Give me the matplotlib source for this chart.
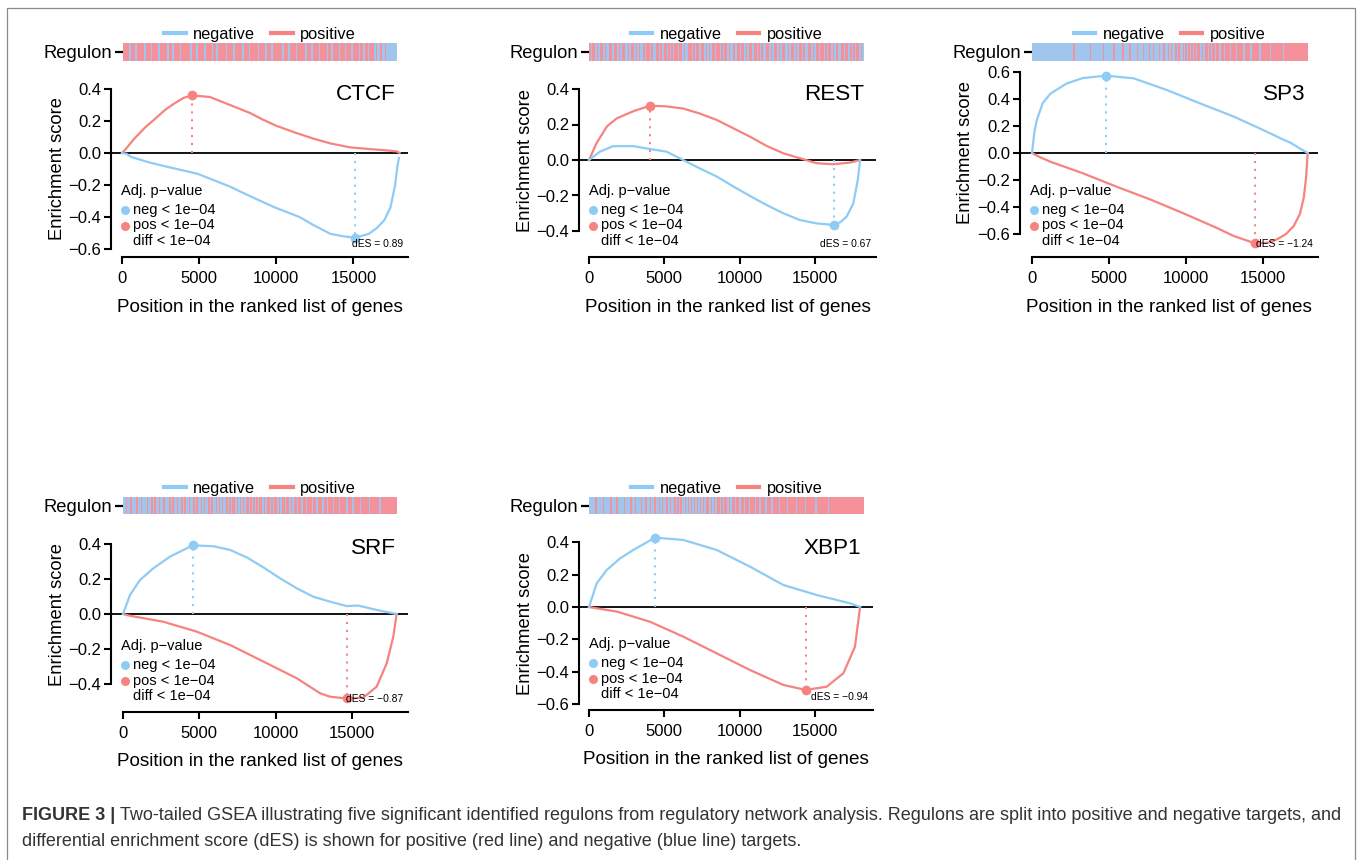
import numpy as np
import matplotlib
matplotlib.use("Agg")
import matplotlib.pyplot as plt
from matplotlib.lines import Line2D
from matplotlib.patches import Rectangle
from matplotlib.colors import ListedColormap

plt.rcParams['font.family'] = ['Liberation Sans', 'DejaVu Sans']

W, H = 1357, 860
BLUE = "#8ECBF5"
RED = "#F6837F"
BAR_BLUE = "#A0C6EE"
BAR_RED = "#F4919A"

regulons = ["CTCF", "REST", "SP3", "SRF", "XBP1"]
des_values = [0.89, 0.67, -1.24, -0.87, -0.94]
p_labels = ["neg < 1e\u221204", "pos < 1e\u221204", "diff < 1e\u221204"]
xtick_vals = [0, 5000, 10000, 15000]

# y ticks of each panel
ctcf_yticks = [-0.6, -0.4, -0.2, 0.0, 0.2, 0.4]
rest_yticks = [-0.4, -0.2, 0.0, 0.2, 0.4]
sp3_yticks = [-0.6, -0.4, -0.2, 0.0, 0.2, 0.4, 0.6]
srf_yticks = [-0.4, -0.2, 0.0, 0.2, 0.4]
xbp1_yticks = [-0.6, -0.4, -0.2, 0.0, 0.2, 0.4]

# running enrichment score, positive targets (red) and negative targets (blue)
ctcf_red_x = [0, 200, 800, 1500, 2100, 2800, 3400, 4000, 4540, 5700, 7000, 8300, 9100, 10000, 11300, 12400, 13500, 14800, 16000, 17300, 17800, 18000]
ctcf_red_y = [0, 0.02, 0.09, 0.16, 0.21, 0.27, 0.31, 0.345, 0.36, 0.35, 0.30, 0.25, 0.21, 0.17, 0.125, 0.09, 0.06, 0.035, 0.025, 0.015, 0.01, 0.0]
ctcf_blue_x = [0, 300, 600, 1800, 3100, 4900, 7000, 8300, 9900, 11500, 12400, 13500, 14300, 15100, 16000, 16500, 17000, 17400, 17700, 17850, 17950]
ctcf_blue_y = [0, -0.005, -0.025, -0.06, -0.09, -0.13, -0.21, -0.27, -0.34, -0.40, -0.45, -0.505, -0.52, -0.53, -0.505, -0.47, -0.42, -0.34, -0.2, -0.08, -0.03]

rest_red_x = [0, 500, 1200, 1850, 2950, 4050, 5150, 6250, 7350, 8500, 9600, 10700, 11800, 12900, 14000, 15100, 16200, 17300, 18000]
rest_red_y = [0, 0.095, 0.19, 0.235, 0.275, 0.306, 0.302, 0.29, 0.262, 0.225, 0.178, 0.131, 0.079, 0.038, 0.01, -0.018, -0.024, -0.015, 0]
rest_blue_x = [0, 300, 730, 1600, 2950, 4050, 5150, 6250, 7350, 8500, 9600, 10700, 11800, 12900, 14000, 15100, 16250, 16700, 17100, 17550, 17850, 18000]
rest_blue_y = [0, 0.02, 0.047, 0.078, 0.078, 0.062, 0.047, 0.0, -0.047, -0.094, -0.15, -0.203, -0.254, -0.30, -0.338, -0.357, -0.366, -0.35, -0.32, -0.245, -0.11, 0]

sp3_red_x = [0, 500, 1200, 3300, 5500, 7700, 9800, 12000, 13100, 14500, 15300, 15900, 16500, 17000, 17400, 17650, 17800, 17900]
sp3_red_y = [0, -0.03, -0.065, -0.15, -0.25, -0.345, -0.445, -0.555, -0.615, -0.67, -0.665, -0.64, -0.6, -0.54, -0.45, -0.33, -0.18, 0]
sp3_blue_x = [0, 150, 300, 700, 1200, 2250, 3300, 4800, 6600, 8750, 10900, 13100, 15200, 16300, 16800, 17300, 17900]
sp3_blue_y = [0, 0.15, 0.24, 0.37, 0.44, 0.515, 0.555, 0.573, 0.553, 0.467, 0.368, 0.27, 0.16, 0.1, 0.075, 0.04, 0]

srf_red_x = [0, 460, 2640, 4820, 7010, 9190, 11380, 12900, 13560, 14650, 15740, 16610, 17270, 17700, 17920]
srf_red_y = [0, -0.01, -0.044, -0.1, -0.176, -0.27, -0.365, -0.45, -0.47, -0.48, -0.475, -0.413, -0.28, -0.129, 0]
srf_blue_x = [0, 460, 1110, 1990, 3080, 4560, 5920, 7010, 8100, 9190, 10280, 11380, 12470, 13560, 14650, 15400, 15740, 16830, 17700, 17920]
srf_blue_y = [0, 0.108, 0.193, 0.26, 0.326, 0.39, 0.385, 0.364, 0.322, 0.265, 0.203, 0.146, 0.098, 0.07, 0.045, 0.048, 0.041, 0.019, 0.004, 0]

xbp1_red_x = [0, 1880, 4050, 6260, 8480, 10690, 12900, 14390, 15780, 16890, 17660, 18000]
xbp1_red_y = [0, -0.029, -0.091, -0.183, -0.286, -0.389, -0.481, -0.512, -0.492, -0.409, -0.245, 0]
xbp1_blue_x = [0, 510, 1175, 2060, 2940, 4380, 6260, 8480, 10690, 12900, 15120, 17330, 18000]
xbp1_blue_y = [0, 0.146, 0.228, 0.30, 0.352, 0.428, 0.414, 0.352, 0.249, 0.136, 0.074, 0.023, 0]

# regulon bar, b = negative target, r = positive target (ordered by rank)
ctcf_bar = "rrrrbrrrbrrrrrbrrrbrrrrbrrrrrbrrbrrrrbrrrrrrbrrrbrrrrbrrrrbrrbrrrrrbrrrrbrrrrrbrrrbrrrrrbrrrrbrrrbrrrrrrbrrrbrrrrbrrrrrbrrrbrrrrbrrrrbrrbrrrrbrrrbrrrbrrrrbrrbrrbrrrbrbbrbbrbbbbbbb"
rest_bar = "rbrrbrbrrbrbbrrbrrbrbrrbbrbrrbrbrbbrbrrbrbbrrbrbrrbrbrbrrbrrbrbbrrbrbrrbrrbrbrbrrbrrbrbrrbrbbrbrrbrrbrbrrbrrbrbrbbrrbrbrrbrbrrbbrbrrbrbrrbrbbrrbrbrrbrrbrbrrbrbrbbrrbrrbrbrbrrbrb"
sp3_bar = "bbbbbbbbbbbbbbbbbbbbbbbbbbbbrbbbbbbbbbbrbbbbbbbbrbbbbbbrbbbbbrbbbbrbbbbrbbbrbbbrbbrbbbrbbrbbrbrbbrbrbbrbrbrbrbrbrrbrbrrbrbrrbrrbrrbrrrbrrrbrrrrbrrrrbrrrrrbrrrrrrbrrrrrrrrbrrrrrrrrrrrrrrrr"
srf_bar = "bbrbbrbbbrbbrbbbrbbrbrbbrbbrbbbrbrbbrbbrbrbbrbbrbrbbrbrbbrbrbbrbrbrbbrbrbrrbrbrbrbrrbrbrbrbrrbrbrrbrbrrbrbrrbrrbrbrrbrrbrrbrrrbrrbrrrbrrbrrrbrrrbrrrrbrrrbrrrrbrrrrrbrrrrrrbrrrrrrrrrrr"
xbp1_bar = "bbbbrbbbbrbbbbrbbbrbbbbrbbbrbbrbbbrbbrbbrbbrbbrbrbbrbrbbrbrbrbbrbrbrbrbrbrbrbrrbrbrbrrbrbrrbrbrrbrrbrrbrrbrrrbrrbrrrbrrrbrrrrbrrrrbrrrrrbrrrrrbrrrrrrbrrrrrrrbrrrrrrrrrrrrrrrrrrrrrrr"

panels = [
    (ctcf_red_x, ctcf_red_y, ctcf_blue_x, ctcf_blue_y, ctcf_bar, ctcf_yticks),
    (rest_red_x, rest_red_y, rest_blue_x, rest_blue_y, rest_bar, rest_yticks),
    (sp3_red_x, sp3_red_y, sp3_blue_x, sp3_blue_y, sp3_bar, sp3_yticks),
    (srf_red_x, srf_red_y, srf_blue_x, srf_blue_y, srf_bar, srf_yticks),
    (xbp1_red_x, xbp1_red_y, xbp1_blue_x, xbp1_blue_y, xbp1_bar, xbp1_yticks),
]

# layout in reference pixels: x of gene 0, px per gene, y-spine x, axis end x,
# y of ES 0, px per ES unit, x-axis y, bar (left, right, top, bottom)
layout = [
    dict(x0=122, sx=0.01543, xs=111, xe=408, y0=153, sy=160, yb=257, bar=(123, 397, 43, 61)),
    dict(x0=589, sx=0.01506, xs=579, xe=876, y0=160, sy=177.5, yb=257, bar=(589, 864, 43, 61)),
    dict(x0=1032, sx=0.0154, xs=1020, xe=1318, y0=153, sy=135, yb=257, bar=(1032, 1307, 43, 61)),
    dict(x0=123, sx=0.01527, xs=111, xe=408, y0=614, sy=176, yb=712, bar=(123, 397, 497, 514)),
    dict(x0=589, sx=0.01506, xs=579, xe=873, y0=607, sy=162, yb=710, bar=(589, 864, 497, 514)),
]


def fx(px):
    return px / W


def fy(py):
    return 1 - py / H


fig = plt.figure(figsize=(W / 100, H / 100), dpi=100)

for name, des, (rx, ry, bx, by, bar, yt), L in zip(regulons, des_values, panels, layout):
    # regulon bar with legend
    bl, br, btop, bbot = L["bar"]
    axb = fig.add_axes([fx(bl), fy(bbot), (br - bl) / W, (bbot - btop) / H])
    vals = np.array([[1 if c == "r" else 0 for c in bar]])
    axb.imshow(vals, cmap=ListedColormap([BAR_BLUE, BAR_RED]), aspect="auto",
               interpolation="nearest", extent=(0, 1, 0, 1), vmin=0, vmax=1)
    axb.set_xlim(0, 1)
    axb.set_ylim(0, 1)
    axb.set_xticks([])
    axb.set_yticks([0.5])
    axb.set_yticklabels(["Regulon"], fontsize=13.2)
    axb.tick_params(axis="y", length=6, width=1.6, pad=1.5)
    for s in axb.spines.values():
        s.set_visible(False)
    handles = [Line2D([], [], color=BLUE, lw=3), Line2D([], [], color=RED, lw=3)]
    axb.legend(handles, ["negative", "positive"], ncol=2, loc="lower center",
               bbox_to_anchor=(0.5, 1.0), frameon=False, fontsize=11.8,
               handlelength=1.3, handletextpad=0.45, columnspacing=1.0,
               borderaxespad=0.0, borderpad=0.05)

    # enrichment plot
    yt_px = btop + 20
    ax = fig.add_axes([fx(L["xs"]), fy(L["yb"]), (L["xe"] - L["xs"]) / W, (L["yb"] - yt_px) / H])
    ax.patch.set_visible(False)
    ax.set_xlim((L["xs"] - L["x0"]) / L["sx"], (L["xe"] - L["x0"]) / L["sx"])
    ax.set_ylim((L["y0"] - L["yb"]) / L["sy"], (L["y0"] - yt_px) / L["sy"])
    ax.axhline(0, color="black", lw=1.3, zorder=1)

    for xs_, ys_, col in [(rx, ry, RED), (bx, by, BLUE)]:
        xs_ = np.array(xs_)
        ys_ = np.array(ys_)
        ax.plot(xs_, ys_, color=col, lw=1.6, zorder=3)
        i = np.argmax(np.abs(ys_))
        ax.plot([xs_[i], xs_[i]], [0, ys_[i]], color=col, lw=1.5,
                linestyle=(0, (1, 2.8)), zorder=2)
        ax.plot(xs_[i], ys_[i], "o", color=col, ms=7, mec="none", zorder=4)

    ax.spines["top"].set_visible(False)
    ax.spines["right"].set_visible(False)
    ax.spines["left"].set_linewidth(1.5)
    ax.spines["bottom"].set_linewidth(1.5)
    ax.spines["left"].set_bounds(yt[0], yt[-1])
    ax.spines["bottom"].set_bounds(0, ax.get_xlim()[1])
    ax.set_yticks(yt)
    ax.set_yticklabels(["%.1f" % v if v >= 0 else "\u2212%.1f" % -v for v in yt], fontsize=12)
    ax.set_xticks(xtick_vals)
    ax.set_xticklabels([str(v) for v in xtick_vals], fontsize=12)
    ax.tick_params(axis="y", length=5, width=1.5, pad=2)
    ax.tick_params(axis="x", length=5, width=1.5, pad=5)

    # labels
    ymid = L["y0"] - (yt[0] + yt[-1]) / 2 * L["sy"]
    fig.text(fx(L["xs"] - 54), fy(ymid), "Enrichment score", rotation=90,
             ha="center", va="center", fontsize=13.2)
    fig.text(fx((L["xs"] + L["xe"]) / 2), fy(L["yb"] + 50),
             "Position in the ranked list of genes", ha="center", va="center", fontsize=13.6)
    fig.text(fx(L["xe"] - 12), fy(bbot + 34), name, ha="right", va="center", fontsize=16.2)

    # inset p-value legend
    fig.text(fx(L["xs"] + 10), fy(L["yb"] - 66), "Adj. p\u2212value", ha="left", va="center", fontsize=10.5)
    for k, (lab, col) in enumerate(zip(p_labels, [BLUE, RED, None])):
        ypx = L["yb"] - 47 + k * 15.5
        if col is not None:
            ax.plot([fx(L["xs"] + 14)], [fy(ypx)], "o", color=col, ms=6.5, mec="none",
                    transform=fig.transFigure, clip_on=False)
        fig.text(fx(L["xs"] + 22), fy(ypx), lab, ha="left", va="center", fontsize=10.5)

    des_txt = ("%.2f" % des).replace("-", "\u2212")
    fig.text(fx(L["xe"] - 5), fy(L["yb"] - 13), "dES = " + des_txt, ha="right",
             va="center", fontsize=7.4)

# frame and caption
fig.add_artist(Rectangle((fx(7), -0.02), fx(1355) - fx(7), fy(8) + 0.02,
                         transform=fig.transFigure, fill=False, ec="#8a8a8a", lw=0.9))
cap_col = "#333333"
t1 = fig.text(fx(22), fy(815), "FIGURE 3 |", fontsize=13.0, fontweight="bold",
              color=cap_col, ha="left", va="center")
r = fig.canvas.get_renderer()
bb = t1.get_window_extent(renderer=r)
fig.text(bb.x1 / W + fx(5), fy(815),
         "Two-tailed GSEA illustrating five significant identified regulons from regulatory network analysis. "
         "Regulons are split into positive and negative targets, and",
         fontsize=13.0, color=cap_col, ha="left", va="center")
fig.text(fx(22), fy(841),
         "differential enrichment score (dES) is shown for positive (red line) and negative (blue line) targets.",
         fontsize=13.0, color=cap_col, ha="left", va="center")

fig.savefig("out.png", dpi=100)
